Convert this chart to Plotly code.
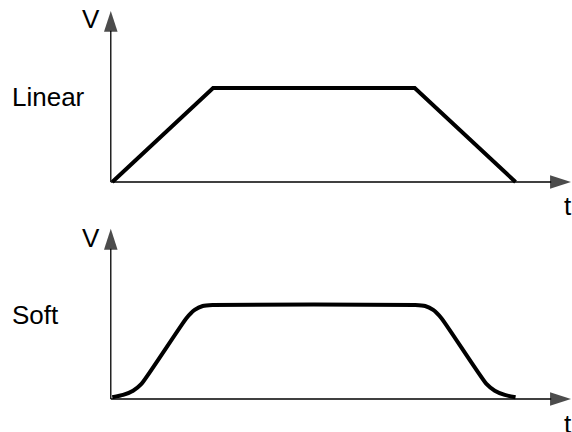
import plotly.graph_objects as go

# velocity profiles (t in ramp units, V normalised to 1)
linear_t = [0, 1, 3, 4]
linear_v = [0, 1, 1, 0]

soft_t = [0, 0.107, 0.206, 0.289, 0.735, 0.817, 0.897, 0.995,
          3.005, 3.103, 3.183, 3.265, 3.711, 3.794, 3.893, 4.0]
soft_v = [0.018, 0.043, 0.088, 0.16, 0.859, 0.947, 0.989, 1.0,
          1.0, 0.989, 0.947, 0.859, 0.16, 0.088, 0.043, 0.018]

panel_names = ["Linear", "Soft"]
y_label = "V"
x_label = "t"

FONT = "Liberation Sans, Arial, sans-serif"
X_RANGE = [-1.114, 4.56]

fig = go.Figure()

fig.add_trace(go.Scatter(x=linear_t, y=linear_v, mode="lines",
                         line=dict(color="black", width=4),
                         xaxis="x", yaxis="y", hoverinfo="skip"))
fig.add_trace(go.Scatter(x=soft_t, y=soft_v, mode="lines",
                         line=dict(color="black", width=4, shape="spline", smoothing=0.5),
                         xaxis="x2", yaxis="y2", hoverinfo="skip"))

# axes with arrow heads, drawn as line + marker traces
for xa, ya, ytop in [("x", "y", 1.82), ("x2", "y2", 1.81)]:
    x0 = -0.015
    for xs, ys in [([x0, 4.55], [0, 0]), ([x0, x0], [0, ytop])]:
        fig.add_trace(go.Scatter(x=xs, y=ys, mode="lines+markers",
                                 line=dict(color="black", width=1.3),
                                 marker=dict(symbol="arrow", size=[0, 22], angleref="previous",
                                             color="black", line=dict(width=0)),
                                 xaxis=xa, yaxis=ya, hoverinfo="skip", cliponaxis=False))

annotations = []
for xa, ya, name, name_t, name_v, vy, ty in [
        ("x", "y", panel_names[0], -0.629, 0.904, 1.734, -0.255),
        ("x2", "y2", panel_names[1], -0.76, 0.894, 1.713, -0.27)]:
    annotations += [
        dict(x=name_t, y=name_v, text=name, xref=xa, yref=ya, showarrow=False,
             xanchor="center", yanchor="middle"),
        dict(x=-0.208, y=vy, text=y_label, xref=xa, yref=ya, showarrow=False,
             xanchor="center", yanchor="middle"),
        dict(x=4.525, y=ty, text=x_label, xref=xa, yref=ya, showarrow=False,
             xanchor="center", yanchor="middle"),
    ]

hidden = dict(visible=False, showgrid=False, zeroline=False, fixedrange=True)

fig.update_layout(
    width=572, height=432,
    margin=dict(l=0, r=0, t=0, b=0),
    paper_bgcolor="white", plot_bgcolor="white",
    showlegend=False,
    font=dict(family=FONT, size=26, color="black"),
    xaxis=dict(hidden, range=X_RANGE, domain=[0, 1], anchor="y"),
    yaxis=dict(hidden, range=[-0.27, 1.936], domain=[0.52, 1.0], anchor="x"),
    xaxis2=dict(hidden, range=X_RANGE, domain=[0, 1], anchor="y2"),
    yaxis2=dict(hidden, range=[-0.351, 1.855], domain=[0, 0.48], anchor="x2"),
    annotations=annotations,
)

# page body margin off so the figure fills the window exactly
fig.write_html("out.html", config={"displayModeBar": False},
               post_script="document.body.style.margin = '0';")
